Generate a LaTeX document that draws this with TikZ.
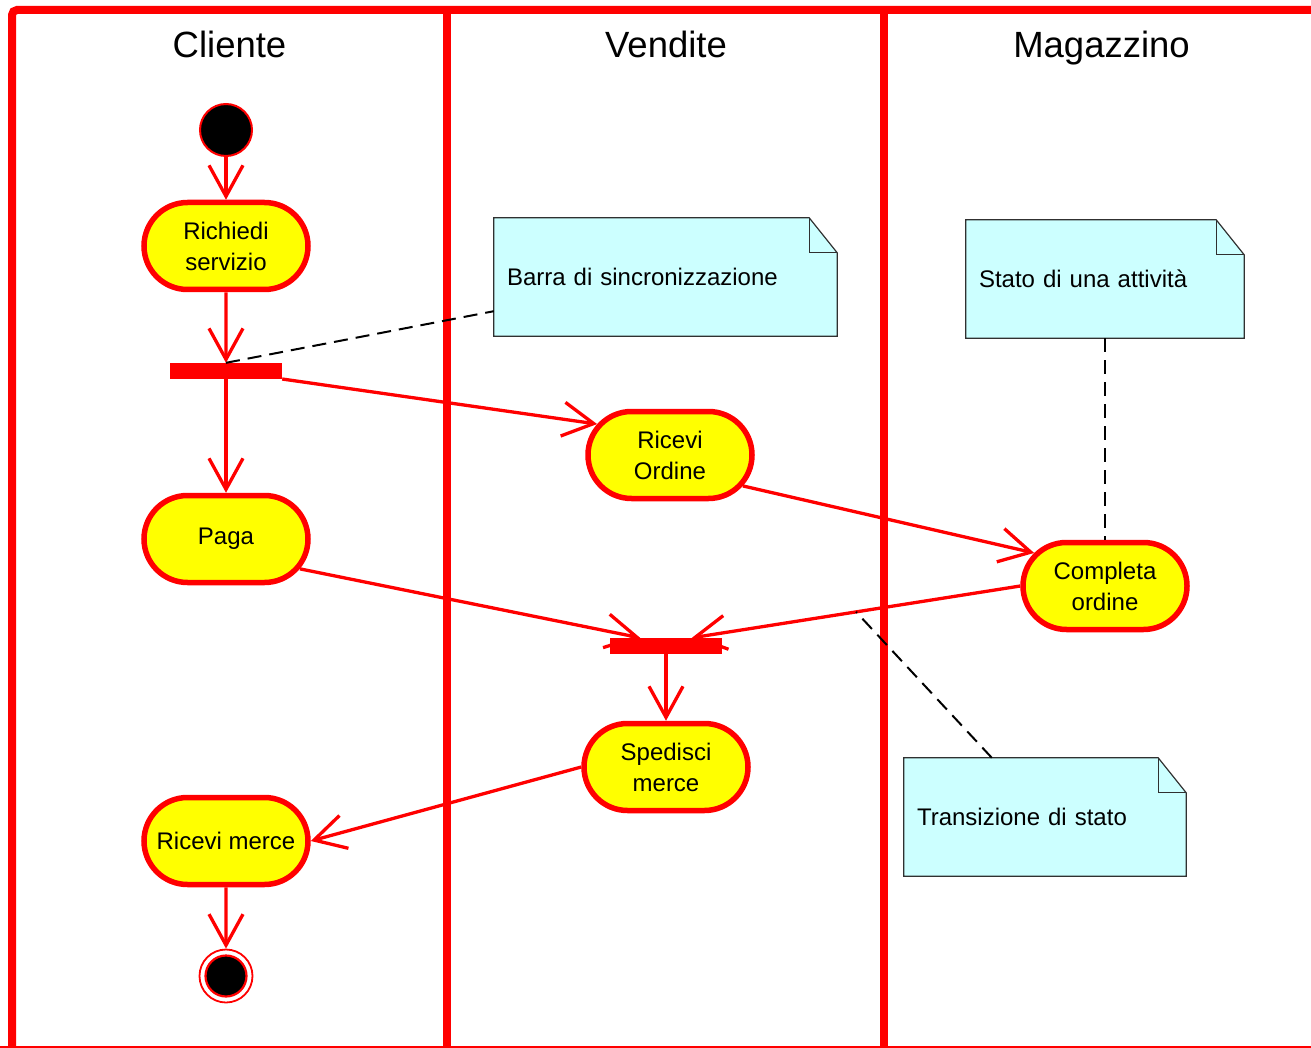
\documentclass[tikz,border=0pt]{standalone}
\usepackage{fontspec}
\setmainfont{Liberation Sans}
\usetikzlibrary{arrows.meta,shapes.misc,calc,backgrounds}
\definecolor{umlred}{HTML}{FF0000}
\definecolor{umlyellow}{HTML}{FFFF00}
\definecolor{notecyan}{HTML}{CCFFFF}
\definecolor{notegray}{HTML}{303030}
\newcommand{\dognote}[1]{%
  \begin{scope}[on background layer]
    \filldraw[fill=notecyan, draw=notegray, line width=1.2pt]
      (#1.north west) -- ($(#1.north east)+(-28,0)$) -- ($(#1.north east)+(0,35)$)
      -- (#1.south east) -- (#1.south west) -- cycle;
    \draw[notegray, line width=1.2pt]
      ($(#1.north east)+(-28,0)$) -- ($(#1.north east)+(-28,35)$) -- ($(#1.north east)+(0,35)$);
  \end{scope}}
\begin{document}
\begin{tikzpicture}[x=1pt,y=-1pt,
  activity/.style={rounded rectangle, draw=umlred, line width=5.5pt, fill=umlyellow,
    minimum width=164pt, minimum height=87pt, inner sep=0pt, align=center,
    font=\fontsize{24}{31}\selectfont},
  syncbar/.style={rectangle, fill=umlred, minimum width=112pt, minimum height=16pt, inner sep=0pt},
  flow/.style={draw=umlred, line width=3.3pt,
    -{Straight Barb[length=31pt,width=34pt,line width=3.3pt]}},
  dashline/.style={draw=black, line width=2pt, dash pattern=on 14pt off 8pt},
  notebox/.style={rectangle, inner xsep=13pt, inner ysep=0pt, minimum height=118pt,
    align=left, font=\fontsize{24}{31}\selectfont},
  lanetitle/.style={anchor=base, font=\fontsize{36.5}{40}\selectfont},
  frameline/.style={draw=umlred, line width=8pt}
]
\path[use as bounding box, clip] (0,0) rectangle (1311,1048);
\begin{scope}[on background layer]
  \fill[white] (0,0) rectangle (1311,1048);
\end{scope}

% frame and lanes
\draw[frameline, rounded corners=5pt] (12,1060) -- (12,10) -- (1330,10);
\draw[frameline] (0,1050) -- (1330,1050);
\draw[frameline] (447,10) -- (447,1050);
\draw[frameline] (884,10) -- (884,1050);

\node[lanetitle] (tc) at (229.5,58) {Cliente};
\node[lanetitle] (tv) at (666,58) {Vendite};
\node[lanetitle] (tm) at (1101.5,58) {Magazzino};

% notes
\node[notebox, text width=317pt] (n1) at (665.5,277) {Barra di sincronizzazione};
\node[notebox, text width=252pt] (n2) at (1105,279) {Stato di una attività};
\node[notebox, text width=256pt] (n3) at (1045,817) {Transizione di stato};
\dognote{n1}
\dognote{n2}
\dognote{n3}

% states
\node[circle, fill=black, draw=umlred, line width=2pt, minimum size=52pt, inner sep=0pt] (start) at (226,130) {};
\node[activity] (rs) at (226,246) {Richiedi\\servizio};
\node[syncbar] (b1) at (226,371) {};
\node[activity] (pg) at (226,539) {Paga};
\node[activity] (ro) at (670,455) {Ricevi\\Ordine};
\node[activity] (co) at (1105,586) {Completa\\ordine};
\node[syncbar] (b2) at (666,646) {};
\node[activity] (sp) at (666,767) {Spedisci\\merce};
\node[activity] (rm) at (226,841) {Ricevi merce};
\node[circle, draw=umlred, line width=1.8pt, minimum size=53pt, inner sep=0pt] (end) at (226,976) {};
\node[circle, fill=black, draw=umlred, line width=2.2pt, minimum size=41pt, inner sep=0pt] (endin) at (end.center) {};

% transitions
\draw[flow] (start) -- (rs);
\draw[flow] (rs) -- (b1);
\draw[flow] (b1) -- (ro.157);
\draw[flow] (b1) -- (pg);
\draw[flow] (ro.337) -- (co.155);
\draw[flow] (pg.338) -- ($(b2.north west)!0.27!(b2.north east)$);
\draw[flow] (co.west) -- coordinate[pos=0.5] (tmid) ($(b2.north west)!0.73!(b2.north east)$);
\draw[flow] (b2) -- (sp);
\draw[flow] (sp.west) -- (rm.east);
\draw[flow] (rm) -- (end);

% note links
\draw[dashline] (b1.north) -- ($(n1.south west)+(0,-25)$);
\draw[dashline] (n2.south) -- (co.north);
\draw[dashline] ($(n3.north west)+(88,0)$) -- (tmid);
\end{tikzpicture}
\end{document}
